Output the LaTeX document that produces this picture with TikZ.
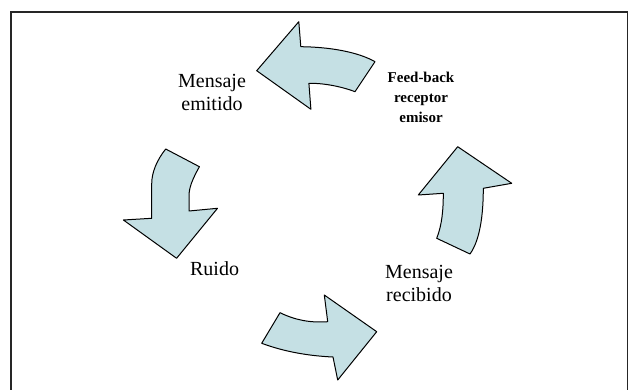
\documentclass[tikz,border=0pt]{standalone}
\usepackage{fontspec}
\setmainfont{Liberation Serif}
\definecolor{arrowfill}{RGB}{197,224,228}
\begin{document}
\begin{tikzpicture}[x=1pt,y=-1pt,
  cyclearrow/.style={fill=arrowfill,draw=black,line width=1pt,line join=round},
  bigtext/.style={font=\fontsize{20}{23}\selectfont,align=center,inner sep=0pt},
  smalltext/.style={font=\bfseries\fontsize{15}{20}\selectfont,align=center,inner sep=0pt},
  frameline/.style={draw=black!85,line width=1.6pt}]
\useasboundingbox (0,0) rectangle (629,390);
% frame
\draw[frameline] (11,391) -- (11,12) -- (627.5,12) -- (627.5,391);
% top arrow (pointing left)
\draw[cyclearrow] (256.7,70.7) -- (298.8,21.7) -- (300.8,46.7)
  .. controls (330,47) and (358,52) .. (375,61.7) -- (355,91.7)
  .. controls (340,86) and (322,83) .. (308.9,83.3) -- (310.9,109.3) -- cycle;
% left arrow (pointing down)
\draw[cyclearrow] (165.7,149) -- (199.4,166.7)
  .. controls (192,180) and (189,188) .. (189,196) -- (189,211) -- (217.5,208.3)
  -- (176.6,258.3) -- (123.4,220) -- (151.7,218.3) -- (151.7,184)
  .. controls (151.7,172) and (157,160) .. (165.7,149) -- cycle;
% right arrow (pointing up)
\draw[cyclearrow] (457.7,146.7) -- (511.7,183.3) -- (483.3,188.3)
  .. controls (483.3,215) and (480,240) .. (470,254) -- (436.7,238.3)
  .. controls (442,225) and (443.3,210) .. (443.3,193.3) -- (418.3,195) -- cycle;
% bottom arrow (pointing right)
\draw[cyclearrow] (376.7,331.7) -- (324.3,295) -- (327.7,321.7)
  .. controls (310,323) and (295,320) .. (280,312.7) -- (261.7,343.3)
  .. controls (285,352) and (310,356) .. (333,357) -- (337.7,380) -- cycle;
% labels
\node[bigtext] (emit) at (212,92) {Mensaje\\emitido};
\node[smalltext] (feed) at (421,97) {Feed-back\\receptor\\emisor};
\node[bigtext] (ruido) at (214.6,269) {Ruido};
\node[bigtext] (recib) at (419,283) {Mensaje\\recibido};
\end{tikzpicture}
\end{document}
